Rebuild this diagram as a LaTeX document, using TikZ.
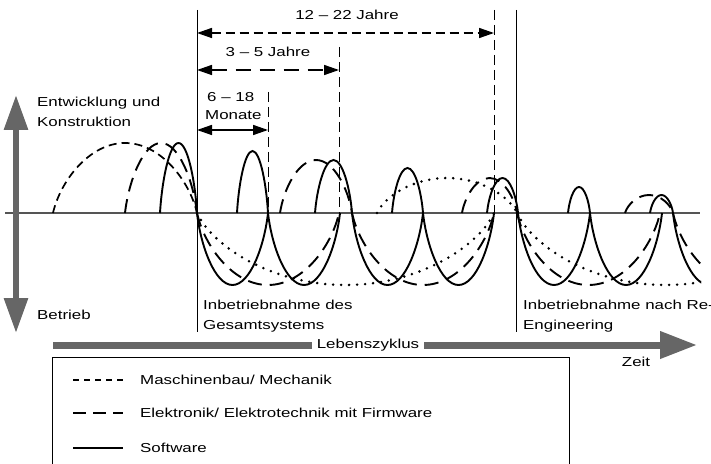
\documentclass[tikz,border=0pt]{standalone}
\usepackage{fontspec}
\setmainfont{Liberation Sans}[FakeStretch=1.3]
\usetikzlibrary{arrows.meta}
\definecolor{arrowgray}{HTML}{666666}
\definecolor{axisgray}{HTML}{555555}
% hump: [style] x0 x1 height
\newcommand\hump[4][]{%
  \draw[#1] (#2,0) .. controls ({#2+0.05*(#3-#2)},{0.45*#4}) and ({(#2+#3)/2-0.25*(#3-#2)},#4) .. ({(#2+#3)/2},#4)
    .. controls ({(#2+#3)/2+0.25*(#3-#2)},#4) and ({#3-0.05*(#3-#2)},{0.45*#4}) .. (#3,0);}
\begin{document}
\begin{tikzpicture}[x=1pt,y=1pt,
  txt/.style={font=\fontsize{13}{15}\selectfont, inner sep=0pt, anchor=base west},
  txtc/.style={font=\fontsize{13}{15}\selectfont, inner sep=0pt, anchor=base},
  sw/.style={line width=1.9pt},
  el/.style={line width=1.9pt, dash pattern=on 14pt off 8pt},
  mb/.style={line width=1.7pt, dash pattern=on 8pt off 5pt},
  mbdot/.style={line width=2.8pt, line cap=round, dash pattern=on 0pt off 8pt},
  bigarrow/.style={arrowgray},
  thinline/.style={line width=0.8pt},
  thindash/.style={line width=0.8pt, dash pattern=on 10pt off 5pt},
  dimtip/.style={{Triangle[length=15pt,width=10pt]}-{Triangle[length=15pt,width=10pt]}},
  legline/.style={line width=1.6pt}]
\useasboundingbox (0,-250) rectangle (711,213);
\clip (0,-250) rectangle (711,213);

% axis
\coordinate (ax0) at (5,0);
\coordinate (ax1) at (700,0);
\draw[axisgray, line width=1.6pt] (ax0) -- (ax1);

% curves
\begin{scope}
\clip (0,-100) rectangle (701,120);
% Maschinenbau / Mechanik
\hump[mb]{53}{197}{70}
\hump[mbdot]{197}{494}{-72}
\hump[mbdot]{377}{517}{35}
\hump[mbdot]{517}{814}{-72}
% Elektronik
\hump[el]{125}{197}{70}
\hump[el]{197}{339}{-72}
\hump[el]{280}{352}{53}
\hump[el]{352}{494}{-72}
\hump[el]{462}{517}{35}
\hump[el]{517}{660}{-72}
\hump[el]{625}{673}{18}
\hump[el]{673}{816}{-72}
% Software
\hump[sw]{160}{197}{70}
\hump[sw]{197}{268}{-72}
\hump[sw]{237}{268}{62}
\hump[sw]{268}{340}{-72}
\hump[sw]{315}{352}{53}
\hump[sw]{352}{423}{-72}
\hump[sw]{392}{423}{45}
\hump[sw]{423}{494}{-72}
\hump[sw]{487}{518}{35}
\hump[sw]{518}{590}{-72}
\hump[sw]{568}{590}{26}
\hump[sw]{590}{662}{-72}
\hump[sw]{650}{673}{18}
\hump[sw]{673}{745}{-72}
\end{scope}

% vertical reference lines
\coordinate (l1t) at (197,203); \coordinate (l1b) at (197,-119);
\coordinate (l2t) at (516,203); \coordinate (l2b) at (516,-119);
\draw[thinline] (l1t) -- (l1b);
\draw[thinline] (l2t) -- (l2b);
\coordinate (d1t) at (268,121); \coordinate (d1b) at (268,0);
\coordinate (d2t) at (339,166); \coordinate (d2b) at (339,0);
\coordinate (d3t) at (494,203); \coordinate (d3b) at (494,0);
\draw[thindash] (d1t) -- (d1b);
\draw[thindash] (d2t) -- (d2b);
\draw[thindash] (d3t) -- (d3b);

% dimension arrows
\coordinate (a1l) at (197,180); \coordinate (a1r) at (494,180);
\coordinate (a2l) at (197,143); \coordinate (a2r) at (339,143);
\coordinate (a3l) at (197,83);  \coordinate (a3r) at (268,83);
\draw[dimtip, line width=1.5pt, dash pattern=on 9pt off 5pt] (a1l) -- (a1r);
\draw[dimtip, line width=1.5pt, dash pattern=on 15pt off 9pt] (a2l) -- (a2r);
\draw[dimtip, line width=1.5pt] (a3l) -- (a3r);
\node[txtc] (t1) at (347,193.5) {12 – 22 Jahre};
\node[txtc] (t2) at (268,156.5) {3 – 5 Jahre};
\node[txt] (t3) at (207,111.5) {6 – 18};
\node[txt] (t4) at (205,93) {Monate};

% vertical gray arrow
\coordinate (vtop) at (16,118);
\coordinate (vbot) at (16,-120);
\draw[bigarrow, line width=6pt, {Triangle[length=35pt,width=23pt]}-{Triangle[length=35pt,width=23pt]}] (vbot) -- (vtop);
\node[txt] (ent) at (37,106.5) {Entwicklung und};
\node[txt] (kon) at (37,86.5) {Konstruktion};
\node[txt] (bet) at (37,-106.5) {Betrieb};

% bottom labels
\node[txt] (ib1) at (203,-96.5) {Inbetriebnahme des};
\node[txt] (ib2) at (203,-116.5) {Gesamtsystems};
\node[txt] (ir1) at (523,-96.5) {Inbetriebnahme nach Re-};
\node[txt] (ir2) at (523,-116.5) {Engineering};

% horizontal gray arrow
\coordinate (hs) at (53,-132);
\coordinate (he) at (697,-132);
\draw[bigarrow, line width=7pt, -{Triangle[length=37pt,width=26pt]}] (hs) -- (he);
\node[font=\fontsize{13}{15}\selectfont, fill=white, inner xsep=5pt, inner ysep=2pt] (lz) at (368,-132) {Lebenszyklus};
\node[txtc] (zeit) at (636,-153.5) {Zeit};

% legend
\draw[line width=1pt] (52,-144) rectangle (569,-262);
\coordinate (s1a) at (73,-167); \coordinate (s1b) at (123,-167);
\coordinate (s2a) at (73,-200); \coordinate (s2b) at (123,-200);
\coordinate (s3a) at (73,-235); \coordinate (s3b) at (123,-235);
\draw[legline, dash pattern=on 6pt off 5pt] (s1a) -- (s1b);
\draw[legline, dash pattern=on 13pt off 7pt] (s2a) -- (s2b);
\draw[legline] (s3a) -- (s3b);
\node[txt] (lg1) at (140,-171.5) {Maschinenbau/ Mechanik};
\node[txt] (lg2) at (140,-204.5) {Elektronik/ Elektrotechnik mit Firmware};
\node[txt] (lg3) at (140,-239.5) {Software};
\end{tikzpicture}
\end{document}
